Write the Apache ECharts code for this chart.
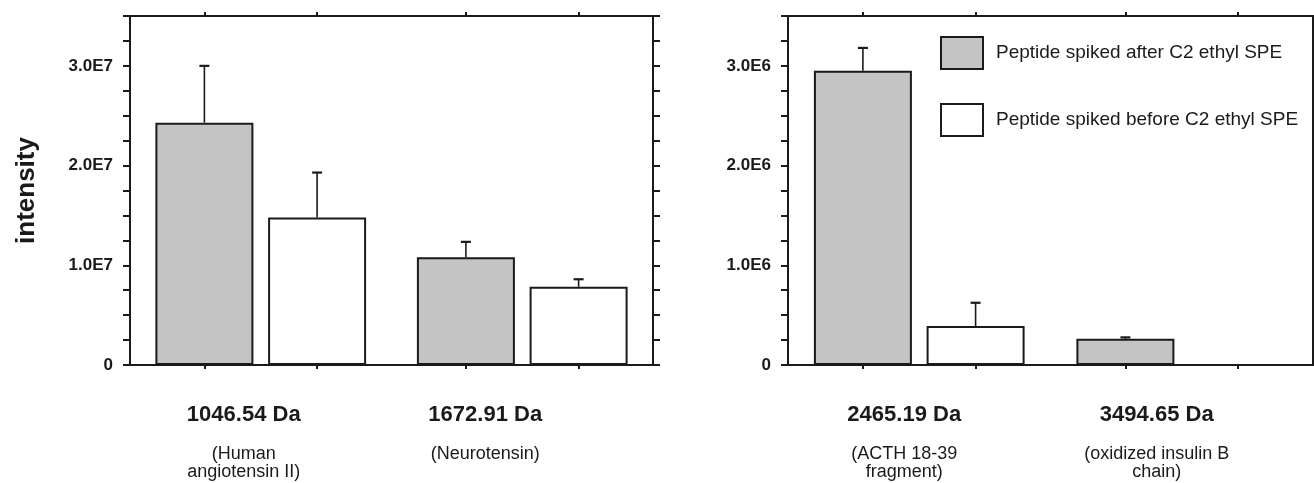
<!DOCTYPE html>
<html><head><meta charset="utf-8">
<script src="https://cdn.jsdelivr.net/npm/echarts@6/dist/echarts.min.js"></script>
<style>html,body{margin:0;padding:0;background:#fff}#c{width:1314px;height:483px}</style>
</head><body><div id="c"></div>
<script>
// ---- data ----
const seriesNames = ['Peptide spiked after C2 ethyl SPE', 'Peptide spiked before C2 ethyl SPE'];
const leftMasses = ['1046.54 Da', '1672.91 Da'];
const leftNames = ['(Human\nangiotensin II)', '(Neurotensin)'];
const rightMasses = ['2465.19 Da', '3494.65 Da'];
const rightNames = ['(ACTH 18-39\nfragment)', '(oxidized insulin B\nchain)'];
const leftAfter = [2.43e7, 1.08e7];
const leftAfterErr = [0.57e7, 0.155e7];
const leftBefore = [1.48e7, 0.785e7];
const leftBeforeErr = [0.45e7, 0.075e7];
const rightAfter = [2.95e6, 0.264e6];
const rightAfterErr = [0.23e6, 0.013e6];
const rightBefore = [0.39e6, null];
const rightBeforeErr = [0.234e6, null];
const leftTickLabels = ['0', '1.0E7', '2.0E7', '3.0E7'];
const rightTickLabels = ['0', '1.0E6', '2.0E6', '3.0E6'];

// ---- style / layout ----
const FONT = 'Liberation Sans, Arial, sans-serif';
const INK = '#1a1a1a';
const GRAY = '#c4c4c4';
const BAR_W = 98, GAP = 0.15;
const grids = [
  {left: 130, right: 661, top: 16, bottom: 118},
  {left: 788, right: 1, top: 16, bottom: 118}
];
const labelShift = [[17, 37], [15, 25]];

const chart = echarts.init(document.getElementById('c'));

function catAxis(gi, masses, names) {
  return {
    type: 'category', gridIndex: gi, position: 'bottom',
    data: masses.map((m, i) => ({value: m, textStyle: {padding: [0, 2 * labelShift[gi][i], 0, 0]}})),
    axisLine: {show: true, onZero: false, lineStyle: {color: INK, width: 2}},
    axisTick: {show: false},
    splitLine: {show: false},
    axisLabel: {
      margin: 20, interval: 0,
      formatter: (v, i) => '{a|' + v + '}\n' + names[i].split('\n').map(s => '{b|' + s + '}').join('\n'),
      rich: {
        a: {fontFamily: FONT, fontWeight: 'bold', fontSize: 22, lineHeight: 60, color: INK},
        b: {fontFamily: FONT, fontSize: 18, lineHeight: 18, color: INK}
      }
    }
  };
}
function tickAxis(gi, pos, showLine) {
  const g = grids[gi];
  const gw = 1314 - g.left - g.right;
  const d = (BAR_W * (1 + GAP) / 2) / (gw / 2);
  return {
    type: 'value', gridIndex: gi, position: pos, min: 0, max: 2,
    axisLine: {show: showLine, onZero: false, lineStyle: {color: INK, width: 2}},
    axisTick: {show: true, customValues: [0.5 - d, 0.5 + d, 1.5 - d, 1.5 + d], length: 4, lineStyle: {color: INK, width: 2}},
    axisLabel: {show: false},
    splitLine: {show: false}
  };
}
function yAxis(gi, max, unit, labels, pos, showLabel, name) {
  return {
    type: 'value', gridIndex: gi, position: pos, min: 0, max: max, interval: unit / 4,
    name: name || '', nameLocation: 'middle', nameRotate: 90, nameGap: 90,
    nameTextStyle: {fontFamily: FONT, fontWeight: 'bold', fontSize: 26, color: INK},
    axisLine: {show: true, onZero: false, lineStyle: {color: INK, width: 2}},
    axisTick: {show: true, inside: false, length: 7, lineStyle: {color: INK, width: 2}},
    splitLine: {show: false},
    axisLabel: {
      show: showLabel, margin: 17,
      fontFamily: FONT, fontWeight: 'bold', fontSize: 17, color: INK,
      formatter: v => (Math.abs(v % unit) < 1 ? (labels[Math.round(v / unit)] || '') : '')
    }
  };
}
function barSeries(name, xi, yi, vals, fill) {
  return {
    type: 'bar', name: name, xAxisIndex: xi, yAxisIndex: yi,
    data: vals.map(v => (v == null ? '-' : v)),
    barWidth: BAR_W, barGap: (GAP * 100) + '%',
    itemStyle: {color: fill, borderColor: INK, borderWidth: 2},
    silent: true, z: 2
  };
}
function errSeries(xi, yi, vals, errs, slot) {
  const data = [];
  vals.forEach((v, i) => { if (v != null) data.push([i, v, v + errs[i]]); });
  return {
    type: 'custom', xAxisIndex: xi, yAxisIndex: yi, silent: true, z: 3,
    data: data,
    renderItem: (params, api) => {
      const base = api.coord([api.value(0), api.value(1)]);
      const top = api.coord([api.value(0), api.value(2)]);
      const x = base[0] + (slot - 0.5) * BAR_W * (1 + GAP);
      return {type: 'group', children: [
        {type: 'line', shape: {x1: x, y1: base[1], x2: x, y2: top[1]}, style: {stroke: INK, lineWidth: 1.6}},
        {type: 'line', shape: {x1: x - 5, y1: top[1], x2: x + 5, y2: top[1]}, style: {stroke: INK, lineWidth: 2.2}}
      ]};
    }
  };
}

const option = {
  backgroundColor: '#fff',
  animation: false,
  grid: grids.map(g => Object.assign({containLabel: false, outerBoundsMode: 'none'}, g)),
  legend: {
    data: seriesNames, orient: 'vertical', left: 935, top: 31,
    itemWidth: 42, itemHeight: 32, itemGap: 33, icon: 'rect',
    itemStyle: {borderColor: INK, borderWidth: 2},
    textStyle: {fontFamily: FONT, fontSize: 19, color: INK, padding: [0, 0, 0, 8]},
    selectedMode: false
  },
  xAxis: [
    catAxis(0, leftMasses, leftNames), tickAxis(0, 'top', true), tickAxis(0, 'bottom', false),
    catAxis(1, rightMasses, rightNames), tickAxis(1, 'top', true), tickAxis(1, 'bottom', false)
  ],
  yAxis: [
    yAxis(0, 3.5e7, 1e7, leftTickLabels, 'left', true, 'intensity'),
    yAxis(0, 3.5e7, 1e7, leftTickLabels, 'right', false),
    yAxis(1, 3.5e6, 1e6, rightTickLabels, 'left', true),
    yAxis(1, 3.5e6, 1e6, rightTickLabels, 'right', false)
  ],
  series: [
    barSeries(seriesNames[0], 0, 0, leftAfter, GRAY),
    barSeries(seriesNames[1], 0, 0, leftBefore, '#ffffff'),
    errSeries(0, 0, leftAfter, leftAfterErr, 0),
    errSeries(0, 0, leftBefore, leftBeforeErr, 1),
    barSeries(seriesNames[0], 3, 2, rightAfter, GRAY),
    barSeries(seriesNames[1], 3, 2, rightBefore, '#ffffff'),
    errSeries(3, 2, rightAfter, rightAfterErr, 0),
    errSeries(3, 2, rightBefore, rightBeforeErr, 1)
  ]
};
chart.setOption(option);
</script></body></html>
